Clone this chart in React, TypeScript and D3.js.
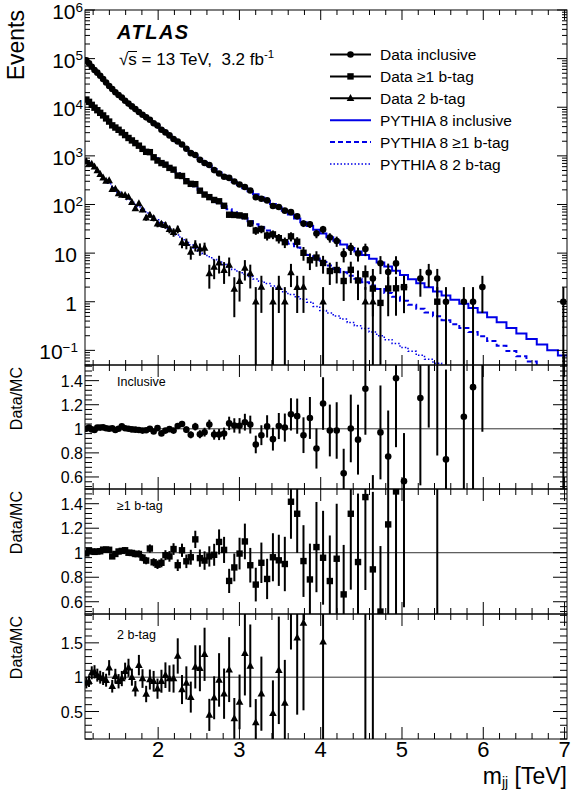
import React from "react";
import * as d3 from "d3";

// dijet mass bin edges [TeV]
const binEdges = [
  1.100, 1.133, 1.166, 1.200, 1.234, 1.269, 1.305, 1.341, 1.378, 1.416, 1.454, 1.493,
  1.533, 1.573, 1.614, 1.656, 1.698, 1.741, 1.785, 1.830, 1.875, 1.921, 1.968, 2.016,
  2.065, 2.114, 2.164, 2.215, 2.267, 2.320, 2.374, 2.429, 2.485, 2.542, 2.600, 2.659,
  2.719, 2.780, 2.842, 2.905, 2.969, 3.034, 3.100, 3.167, 3.235, 3.305, 3.376, 3.448,
  3.521, 3.596, 3.672, 3.749, 3.827, 3.907, 3.988, 4.070, 4.154, 4.239, 4.326, 4.414,
  4.504, 4.595, 4.688, 4.782, 4.878, 4.975, 5.074, 5.175, 5.277, 5.381, 5.487, 5.595,
  5.705, 5.817, 5.931, 6.047, 6.165, 6.285, 6.407, 6.531, 6.658, 6.787, 6.918, 7.052,
];

// PYTHIA 8 prediction, events per bin
const mcInclusive = [
  92700, 79600, 68200, 58700, 50900, 43950, 37670, 32140, 27290, 23660,
  20510, 17820, 15490, 13490, 11890, 10470, 9226, 8091, 7096, 6266,
  5521, 4808, 4169, 3589, 3083, 2642, 2259, 1936, 1652, 1409,
  1197, 1021, 867, 735, 625, 535, 455, 388, 337, 290,
  251, 217, 188, 162, 139, 119, 102, 87.1, 74.0, 62.2,
  51.8, 43.0, 36.0, 30.2, 25.4, 21.3, 17.9, 15.1, 12.7, 10.8,
  9.12, 7.67, 6.38, 5.28, 4.33, 3.54, 2.91, 2.39, 1.98, 1.63,
  1.34, 1.10, 0.910, 0.743, 0.601, 0.479, 0.377, 0.289, 0.223, 0.172,
  0.132, 0.101, 0.078,
];
const mcGe1b = [
  14490, 12680, 11090, 9727, 8610, 7586, 6622, 5741, 4955, 4375,
  3864, 3404, 2985, 2624, 2333, 2080, 1849, 1637, 1452, 1294,
  1153, 1014, 889, 774, 673, 583, 505, 438, 378, 324,
  276, 236, 201, 171, 146, 126, 107, 92.0, 80.0, 69.3,
  60.1, 52.2, 45.4, 39.4, 34.0, 29.2, 25.2, 21.6, 18.5, 15.6,
  13.0, 10.9, 9.16, 7.73, 6.55, 5.57, 4.73, 4.05, 3.44, 2.96,
  2.53, 2.16, 1.82, 1.52, 1.26, 1.05, 0.869, 0.721, 0.603, 0.501,
  0.416, 0.346, 0.288, 0.238, 0.195, 0.156, 0.124, 0.0966, 0.0753, 0.0587,
  0.0456, 0.0354, 0.0277,
];
const mc2b = [
  834, 729, 638, 556, 484, 420, 365, 318, 275, 238,
  206, 179, 160, 142, 126, 112, 99.8, 89.3, 79.8, 71.1,
  63.4, 55.5, 48.4, 42.1, 36.6, 31.7, 27.4, 23.7, 20.3, 17.4,
  14.9, 12.7, 10.9, 9.62, 8.45, 7.41, 6.58, 5.83, 5.16, 4.59,
  4.11, 3.67, 3.29, 2.94, 2.64, 2.37, 2.10, 1.82, 1.60, 1.41,
  1.27, 1.12, 0.98, 0.80, 0.66, 0.585, 0.51, 0.44, 0.376, 0.32,
  0.282, 0.238, 0.200, 0.166, 0.138, 0.115, 0.0955, 0.0793, 0.0656, 0.0541,
  0.0444, 0.0363, 0.0296, 0.0240, 0.0195, 0.0157, 0.0126, 0.0100, 0.0079, 0.0063,
  0.0050, 0.0039, 0.0030,
];

// data / MC per bin (null = empty bin)
const ratioInclusive = [
  1.00, 1.01, 0.995, 0.99, 1.01, 1.01, 1.012, 1.005, 1.0, 1.005,
  0.99, 1.0, 1.02, 1.005, 1.0, 0.995, 0.993, 0.99, 0.985, 0.988,
  1.0, 0.977, 1.006, 0.962, 0.985, 0.997, 0.985, 1.023, 1.04, 0.993,
  0.95, 1.018, 0.955, 0.972, 1.035, 0.952, 0.952, 0.96, 1.045, 1.028,
  1.025, 1.055, 1.035, 0.87, 0.947, 1.02, 0.914, 1.023, 1.01, 1.12,
  1.105, 0.947, 1.09, 0.836, 1.21, 0.986, 0.986, 0.63, 1.003, 0.91,
  1.333, 0.39, 0.97, 0.77, 1.42, 0.565, null, 1.255, 2.02, 1.84,
  0.746, null, 1.10, 1.346, 3.33, null, null, null, null, null,
  null, null, 12.8,
];
const ratioGe1b = [
  0.994, 1.018, 1.01, 1.007, 1.01, 1.012, 1.025, 1.026, 1.024, 0.97,
  0.99, 1.01, 1.015, 1.02, 1.0, 0.998, 0.99, 0.99, 0.96, 0.936,
  1.034, 0.922, 0.902, 0.918, 0.98, 0.97, 1.03, 0.898, 1.02, 0.93,
  0.963, 1.109, 0.956, 0.936, 0.97, 0.983, 1.088, 1.023, 0.77, 0.88,
  0.993, 1.092, 0.898, 0.74, 0.918, 0.786, 0.963, 0.938, 0.908, 1.416,
  1.318, 0.932, 0.782, 1.046, 0.959, 0.769, 0.951, 0.66, 1.318, 0.924,
  1.454, 0.864, 0.52, 1.231, 1.50, 1.9, null, null, null, 2.0,
  null, null, null, null, null, null, null, null, null, null,
  null, null, null,
];
const ratio2b = [
  0.917, 0.941, 1.064, 1.078, 1.03, 1.0, 0.98, 0.956, 1.137, 0.868,
  1.015, 0.941, 0.98, 1.088, 1.137, 1.0, 0.833, 1.176, 0.98, 0.755,
  0.966, 0.941, 0.833, 0.941, 1.029, 0.98, 0.98, 1.309, 0.82, 0.917,
  0.71, 1.15, 1.13, 1.333, 0.451, 0.70, 0.96, 0.76, 1.11, 0.40,
  0.64, 1.35, 1.165, 0.34, 0.76, null, 0.476, 1.10, 0.625, 2.84,
  1.575, 1.79, null, null, 1.515, null, null, null, null, null,
  3.55, 4.2, null, null, null, null, null, null, null, null,
  null, null, null, null, null, null, null, null, null, null,
  null, null, null,
];

// relative MC statistical uncertainty entering the ratio
const mcStatUnc = [0.003, 0.015, 0.08];

const xMajorTicks = [2, 3, 4, 5, 6, 7];

const font = "'Liberation Sans', Arial, Helvetica, sans-serif";
const blue = "#0000e8";

const L = 85, R = 567;
const MAIN_TOP = 10, MAIN_BOT = 365;

const x = d3.scaleLinear().domain([1.1, 7.03]).range([L, R]);
const yMain = d3.scaleLog().domain([0.05, 1e6]).range([MAIN_BOT, MAIN_TOP]);

const series = [
  { mc: mcInclusive, ratio: ratioInclusive, marker: "circle", dash: "", lw: 2, stat: mcStatUnc[0],
    label: "Inclusive", top: 365, bot: 489, domain: [0.5, 1.53], step: 25, major: 5, imin: 13, imax: 38 },
  { mc: mcGe1b, ratio: ratioGe1b, marker: "square", dash: "5 3", lw: 2, stat: mcStatUnc[1],
    label: "\u22651 b-tag", top: 489, bot: 614, domain: [0.5, 1.52], step: 25, major: 5, imin: 13, imax: 38 },
  { mc: mc2b, ratio: ratio2b, marker: "triangle", dash: "1.5 2", lw: 1.5, stat: mcStatUnc[2],
    label: "2 b-tag", top: 614, bot: 739, domain: [0.1, 1.92], step: 10, major: 5, imin: 1, imax: 19 },
];

const centers = binEdges.slice(0, -1).map((e, i) => (e + binEdges[i + 1]) / 2);

function Marker({ type, cx, cy }: { type: string; cx: number; cy: number }) {
  if (type === "circle") return <circle cx={cx} cy={cy} r={3.3} fill="#000" />;
  if (type === "square") return <rect x={cx - 3.2} y={cy - 3.2} width={6.4} height={6.4} fill="#000" />;
  return <path d={`M${cx},${cy - 4.2}L${cx + 3.8},${cy + 2.8}L${cx - 3.8},${cy + 2.8}Z`} fill="#000" />;
}

function xTicks(top: number, bot: number, maj: number, min: number) {
  const out = [];
  for (let i = 6; i <= 35; i++) {
    const v = i / 5;
    const len = i % 5 === 0 ? maj : min;
    const px = x(v);
    out.push(<line key={"b" + i} x1={px} x2={px} y1={bot} y2={bot - len} />);
    out.push(<line key={"t" + i} x1={px} x2={px} y1={top} y2={top + len} />);
  }
  return out;
}

export default function App() {
  const stepLine = d3
    .line<[number, number]>()
    .x((d) => x(d[0]))
    .y((d) => yMain(Math.max(d[1], 1e-4)))
    .curve(d3.curveStepAfter);

  // main panel y ticks
  const mainYTicks = [];
  for (let e = -2; e <= 5; e++) {
    for (let k = 1; k <= 9; k++) {
      const v = k * Math.pow(10, e);
      if (v < 0.05 || v > 1e6) continue;
      const len = k === 1 ? 10 : 5;
      const py = yMain(v);
      mainYTicks.push(<line key={"l" + e + k} x1={L} x2={L + len} y1={py} y2={py} />);
      mainYTicks.push(<line key={"r" + e + k} x1={R} x2={R - len} y1={py} y2={py} />);
    }
  }
  mainYTicks.push(<line key="top6l" x1={L} x2={L + 10} y1={yMain(1e6)} y2={yMain(1e6)} />);
  mainYTicks.push(<line key="top6r" x1={R} x2={R - 10} y1={yMain(1e6)} y2={yMain(1e6)} />);

  const decadeLabels = [-1, 0, 1, 2, 3, 4, 5, 6].map((e) => {
    const py = yMain(Math.pow(10, e)) + 9;
    if (e === 0 || e === 1)
      return (
        <text key={e} x={77} y={py} textAnchor="end" fontSize={21}>
          {e === 0 ? "1" : "10"}
        </text>
      );
    return (
      <text key={e} x={e < 0 ? 78 : 83} y={py} textAnchor="end" fontSize={21}>
        10
        <tspan fontSize={13.5} dy={-7.5}>{e < 0 ? "\u22121" : String(e)}</tspan>
      </text>
    );
  });

  const legendRows = [
    { text: "Data inclusive", kind: "data", marker: "circle" },
    { text: "Data \u22651 b-tag", kind: "data", marker: "square" },
    { text: "Data 2 b-tag", kind: "data", marker: "triangle" },
    { text: "PYTHIA 8 inclusive", kind: "mc", dash: "", lw: 2 },
    { text: "PYTHIA 8 \u22651 b-tag", kind: "mc", dash: "5 3", lw: 2 },
    { text: "PYTHIA 8 2 b-tag", kind: "mc", dash: "1.5 2", lw: 1.5 },
  ];

  return (
    <svg
      width={575}
      height={791}
      style={{ position: "absolute", left: 0, top: 0, background: "#fff" }}
      fontFamily={font}
    >
      <defs>
        <clipPath id="clipMain">
          <rect x={L} y={MAIN_TOP} width={R - L} height={MAIN_BOT - MAIN_TOP} />
        </clipPath>
        {series.map((s, k) => (
          <clipPath id={"clipR" + k} key={k}>
            <rect x={L} y={s.top} width={R - L} height={s.bot - s.top} />
          </clipPath>
        ))}
      </defs>

      {/* ---------- main panel ---------- */}
      <g clipPath="url(#clipMain)">
        {series.map((s, k) => {
          const pts: [number, number][] = s.mc.map((v, i) => [binEdges[i], v]);
          pts.push([binEdges[binEdges.length - 1], s.mc[s.mc.length - 1]]);
          return (
            <path
              key={"mc" + k}
              d={stepLine(pts) || ""}
              fill="none"
              stroke={blue}
              strokeWidth={s.lw}
              strokeDasharray={s.dash || undefined}
            />
          );
        })}
        {series.map((s, k) =>
          s.ratio.map((r, i) => {
            if (r === null) return null;
            const n = s.mc[i] * r;
            const e = Math.sqrt(n);
            const cx = x(centers[i]);
            const lo = n - e > 0 ? yMain(n - e) : MAIN_BOT + 5;
            return (
              <g key={"d" + k + "_" + i}>
                <line x1={cx} x2={cx} y1={lo} y2={yMain(n + e)} stroke="#000" strokeWidth={2} />
                <Marker type={s.marker} cx={cx} cy={yMain(n)} />
              </g>
            );
          })
        )}
      </g>
      <rect x={L} y={MAIN_TOP} width={R - L} height={MAIN_BOT - MAIN_TOP} fill="none" stroke="#000" strokeWidth={1} />
      <g stroke="#000" strokeWidth={1}>
        {mainYTicks}
        {xTicks(MAIN_TOP, MAIN_BOT, 10, 5)}
      </g>
      {decadeLabels}
      <text transform="translate(24,10) rotate(-90)" textAnchor="end" fontSize={23}>
        Events
      </text>

      <text x={117} y={39} fontSize={20} fontWeight="bold" fontStyle="italic" letterSpacing={1.5}>
        ATLAS
      </text>
      <text x={119} y={65} fontSize={17} style={{ whiteSpace: "pre" }}>
        {"\u221As = 13 TeV,  3.2 fb"}
        <tspan fontSize={11.5} dy={-7}>-1</tspan>
      </text>
      <line x1={128} x2={137} y1={51.5} y2={51.5} stroke="#000" strokeWidth={1} />

      {legendRows.map((row, i) => {
        const ly = 54.5 + i * 21.9;
        return (
          <g key={"leg" + i}>
            {row.kind === "data" ? (
              <>
                <line x1={330} x2={371} y1={ly} y2={ly} stroke="#000" strokeWidth={2} />
                <Marker type={row.marker as string} cx={350.5} cy={ly} />
              </>
            ) : (
              <line
                x1={330}
                x2={371}
                y1={ly}
                y2={ly}
                stroke={blue}
                strokeWidth={row.lw}
                strokeDasharray={row.dash || undefined}
              />
            )}
            <text x={380} y={ly + 5.5} fontSize={15.5}>
              {row.text}
            </text>
          </g>
        );
      })}

      {/* ---------- ratio panels ---------- */}
      {series.map((s, k) => {
        const ys = d3.scaleLinear().domain(s.domain).range([s.bot, s.top]);
        const yTicks = [];
        const yLabels = [];
        for (let i = s.imin; i <= s.imax; i++) {
          const v = i / s.step;
          const isMaj = i % s.major === 0;
          const len = isMaj ? 14 : 7;
          const py = ys(v);
          yTicks.push(<line key={"yl" + i} x1={L} x2={L + len} y1={py} y2={py} />);
          yTicks.push(<line key={"yr" + i} x1={R} x2={R - len} y1={py} y2={py} />);
          if (isMaj) {
            const lab = Math.abs(v - 1) < 1e-9 ? "1" : String(+v.toFixed(1));
            yLabels.push(
              <text key={"lab" + i} x={83} y={py + 6} textAnchor="end" fontSize={16}>
                {lab}
              </text>
            );
          }
        }
        return (
          <g key={"rp" + k}>
            <line x1={L} x2={R} y1={ys(1)} y2={ys(1)} stroke="#333" strokeWidth={1} />
            <g clipPath={`url(#clipR${k})`}>
              {s.ratio.map((r, i) => {
                if (r === null) return null;
                const mc = s.mc[i];
                const n = mc * r;
                const err = Math.sqrt(n / (mc * mc) + (r * s.stat) * (r * s.stat));
                const cx = x(centers[i]);
                const inside = r >= s.domain[0] && r <= s.domain[1];
                return (
                  <g key={"r" + i}>
                    <line x1={cx} x2={cx} y1={ys(r - err)} y2={ys(r + err)} stroke="#000" strokeWidth={2} />
                    {inside && <Marker type={s.marker} cx={cx} cy={ys(r)} />}
                  </g>
                );
              })}
            </g>
            <rect x={L} y={s.top} width={R - L} height={s.bot - s.top} fill="none" stroke="#000" strokeWidth={1} />
            <g stroke="#000" strokeWidth={1}>
              {yTicks}
              {xTicks(s.top, s.bot, 12, 6)}
            </g>
            {yLabels}
            <text x={117} y={s.top + (k === 2 ? 25 : 21)} fontSize={12.5}>
              {s.label}
            </text>
            <text transform={`translate(22,${s.top + 2}) rotate(-90)`} textAnchor="end" fontSize={16}>
              Data/MC
            </text>
          </g>
        );
      })}

      {xMajorTicks.map((v) => (
        <text key={"xl" + v} x={x(v)} y={757} textAnchor="middle" fontSize={22}>
          {v}
        </text>
      ))}
      <text x={567} y={784} textAnchor="end" fontSize={23}>
        m
        <tspan fontSize={14} dy={3}>jj</tspan>
        <tspan dy={-3}> [TeV]</tspan>
      </text>
    </svg>
  );
}
